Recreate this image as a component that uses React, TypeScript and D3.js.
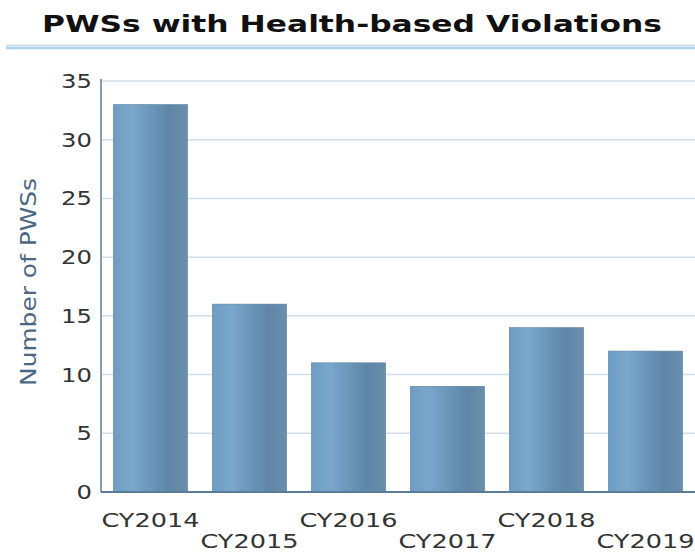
import React from "react";
import * as d3 from "d3";

const categories = ["CY2014", "CY2015", "CY2016", "CY2017", "CY2018", "CY2019"];
const values = [33, 16, 11, 9, 14, 12];
const yTicks = [0, 5, 10, 15, 20, 25, 30, 35];
const title = "PWSs with Health-based Violations";
const yTitle = "Number of PWSs";

const W = 695;
const H = 553;
const M = { left: 101, right: 0, top: 81, bottom: 61 };

export default function App() {
  const x = d3
    .scaleBand<string>()
    .domain(categories)
    .range([M.left, W - M.right])
    .paddingInner(0.25)
    .paddingOuter(0.125);
  const y = d3.scaleLinear().domain([0, 35]).range([H - M.bottom, M.top]);
  const font = "'DejaVu Sans', Verdana, sans-serif";
  const sx = 1.28;
  return (
    <svg
      width={W}
      height={H}
      style={{ position: "absolute", left: 0, top: 0, background: "#fff" }}
    >
      <defs>
        <linearGradient id="barGrad" x1="0" x2="1" y1="0" y2="0">
          <stop offset="0" stopColor="#6f9cc2" />
          <stop offset="0.25" stopColor="#7aa7cc" />
          <stop offset="0.6" stopColor="#6690b3" />
          <stop offset="0.75" stopColor="#5f86a6" />
          <stop offset="1" stopColor="#6a8fae" />
        </linearGradient>
      </defs>
      <text
        x={42}
        y={32}
        textLength={620}
        lengthAdjust="spacingAndGlyphs"
        fontFamily={font}
        fontWeight="bold"
        fontSize={23}
        fill="#111"
      >
        {title}
      </text>
      <line x1={6} x2={W} y1={45.5} y2={45.5} stroke="#c8d4de" strokeWidth={1.5} />
      <line x1={6} x2={W} y1={48} y2={48} stroke="#a9d3f0" strokeWidth={2.5} />
      {yTicks.map((t) => (
        <g key={t}>
          {t > 0 && (
            <line
              x1={M.left}
              x2={W}
              y1={y(t)}
              y2={y(t)}
              stroke="#d3dde6"
              strokeWidth={1.5}
            />
          )}
          <text
            transform={`translate(${M.left - 9}, ${y(t) + 7}) scale(${sx}, 1)`}
            textAnchor="end"
            fontFamily={font}
            fontSize={19}
            fill="#333"
          >
            {t}
          </text>
        </g>
      ))}
      {categories.map((c, i) => (
        <rect
          key={c}
          x={x(c)!}
          y={y(values[i])}
          width={x.bandwidth()}
          height={y(0) - y(values[i])}
          fill="url(#barGrad)"
          stroke="#5d83a2"
          strokeWidth={0.6}
        />
      ))}
      <line x1={M.left} x2={M.left} y1={M.top - 2} y2={y(0)} stroke="#5a7c99" strokeWidth={1.5} />
      <line x1={M.left} x2={W} y1={y(0)} y2={y(0)} stroke="#5a7c99" strokeWidth={2} />
      {categories.map((c, i) => (
        <text
          key={c}
          transform={`translate(${x(c)! + x.bandwidth() / 2}, ${i % 2 === 0 ? 527 : 548}) scale(${sx}, 1)`}
          textAnchor="middle"
          fontFamily={font}
          fontSize={20}
          fill="#333"
        >
          {c}
        </text>
      ))}
      <text
        transform={`translate(36, 282) rotate(-90) scale(1.13, 1)`}
        textAnchor="middle"
        fontFamily={font}
        fontSize={22}
        fill="#4a6884"
      >
        {yTitle}
      </text>
    </svg>
  );
}
